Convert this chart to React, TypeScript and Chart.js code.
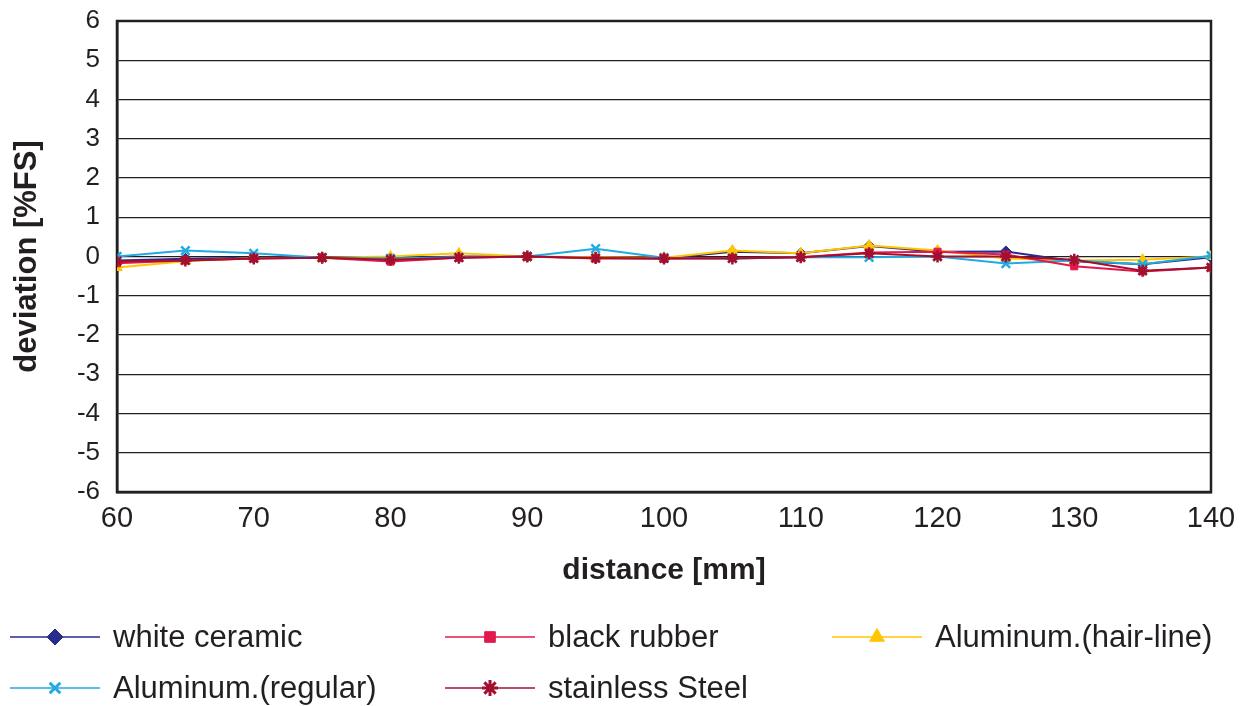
import React, { useEffect, useRef } from "react";
import { Chart, registerables } from "chart.js";
import { drawPoint } from "chart.js/helpers";

Chart.register(...registerables);

const distances = [60, 65, 70, 75, 80, 85, 90, 95, 100, 105, 110, 115, 120, 125, 130, 135, 140];

const whiteCeramic = [-0.1, -0.06, -0.03, -0.03, -0.05, 0.0, 0.0, -0.03, -0.05, 0.12, 0.08, 0.27, 0.12, 0.13, -0.12, -0.2, -0.02];
const blackRubber = [-0.17, -0.1, -0.05, -0.03, -0.13, -0.03, 0.0, -0.05, -0.05, -0.04, -0.02, 0.1, 0.12, 0.05, -0.25, -0.38, -0.28];
const aluminumHairLine = [-0.28, -0.12, -0.04, -0.03, 0.0, 0.08, 0.0, -0.02, -0.03, 0.15, 0.08, 0.28, 0.15, -0.05, -0.1, -0.08, 0.0];
const aluminumRegular = [0.0, 0.15, 0.08, -0.03, -0.05, -0.02, 0.0, 0.2, -0.03, -0.05, -0.02, -0.02, 0.0, -0.18, -0.1, -0.2, 0.02];
const stainlessSteel = [-0.12, -0.1, -0.05, -0.03, -0.08, -0.03, 0.0, -0.04, -0.05, -0.05, -0.02, 0.08, 0.0, 0.0, -0.08, -0.36, -0.28];

const seriesLabels = ["white ceramic", "black rubber", "Aluminum.(hair-line)", "Aluminum.(regular)", "stainless Steel"];
const xTitle = "distance [mm]";
const yTitle = "deviation [%FS]";

const INK = "#231f20";

const toPoints = (vals: number[]) => vals.map((v, i) => ({ x: distances[i], y: v }));

const legendSlots = [
  { x: 10, y: 637 },
  { x: 445, y: 637 },
  { x: 832, y: 637 },
  { x: 10, y: 688 },
  { x: 445, y: 688 },
];

const decorPlugin = {
  id: "decor",
  beforeDatasetsDraw(chart: any) {
    const { ctx, chartArea } = chart;
    ctx.save();
    ctx.strokeStyle = INK;
    ctx.lineWidth = 2.5;
    ctx.strokeRect(chartArea.left, chartArea.top, chartArea.right - chartArea.left, chartArea.bottom - chartArea.top);
    ctx.restore();
  },
  afterDraw(chart: any) {
    const { ctx } = chart;
    ctx.save();
    chart.data.datasets.forEach((ds: any, i: number) => {
      const slot = legendSlots[i];
      if (!slot) return;
      ctx.strokeStyle = ds.borderColor;
      ctx.lineWidth = 1.5;
      ctx.beginPath();
      ctx.moveTo(slot.x, slot.y);
      ctx.lineTo(slot.x + 90, slot.y);
      ctx.stroke();
      ctx.fillStyle = ds.pointBackgroundColor;
      ctx.strokeStyle = ds.pointBorderColor;
      ctx.lineWidth = ds.legendBorderWidth;
      drawPoint(ctx, { pointStyle: ds.pointStyle, radius: ds.legendRadius, rotation: 0, borderWidth: ds.legendBorderWidth }, slot.x + 45, slot.y);
      ctx.fillStyle = INK;
      ctx.font = "31px 'Liberation Sans', Arial, sans-serif";
      ctx.textAlign = "left";
      ctx.textBaseline = "middle";
      ctx.fillText(ds.label, slot.x + 103, slot.y + 1);
    });
    ctx.restore();
  },
};

export default function App() {
  const canvasRef = useRef<HTMLCanvasElement | null>(null);

  useEffect(() => {
    if (!canvasRef.current) return;
    const mk = (
      idx: number,
      values: number[],
      color: string,
      style: string,
      radius: number,
      bw: number,
      legendRadius: number,
      legendBw: number,
      order: number
    ) => ({
      label: seriesLabels[idx],
      data: toPoints(values),
      borderColor: color,
      backgroundColor: color,
      pointBackgroundColor: color,
      pointBorderColor: color,
      pointStyle: style,
      pointRadius: radius,
      pointBorderWidth: bw,
      legendRadius,
      legendBorderWidth: legendBw,
      borderWidth: 2,
      tension: 0,
      fill: false,
      order,
    });

    const chart = new Chart(canvasRef.current, {
      type: "line",
      data: {
        datasets: [
          mk(0, whiteCeramic, "#262d8c", "rectRot", 5.5, 1, 8, 1, 4),
          mk(1, blackRubber, "#e3184d", "rect", 5, 1, 7.5, 1, 1),
          mk(2, aluminumHairLine, "#ffc600", "triangle", 6, 1, 8.5, 1, 3),
          mk(3, aluminumRegular, "#22aae2", "crossRot", 6, 2.5, 7.5, 3, 2),
          mk(4, stainlessSteel, "#a3102f", "star", 6, 2.5, 8, 3, 0),
        ] as any,
      },
      options: {
        animation: false,
        responsive: false,
        maintainAspectRatio: false,
        layout: { padding: { top: 21, right: 36, bottom: 117, left: 0 } },
        plugins: {
          legend: { display: false },
          tooltip: { enabled: false },
          title: { display: false },
        },
        scales: {
          x: {
            type: "linear",
            min: 60,
            max: 140,
            ticks: {
              stepSize: 10,
              color: INK,
              padding: 10,
              font: { family: "'Liberation Sans', Arial, sans-serif", size: 29 },
            },
            grid: { display: false, drawTicks: false },
            border: { display: true, color: INK, width: 2.5 },
            title: {
              display: true,
              text: xTitle,
              color: INK,
              padding: { top: 0, bottom: 0 },
              font: { family: "'Liberation Sans', Arial, sans-serif", size: 30, weight: "bold" },
            },
            afterFit: (scale: any) => {
              scale.height = 97;
              scale.paddingLeft = 0;
              scale.paddingRight = 0;
            },
          },
          y: {
            type: "linear",
            min: -6,
            max: 6,
            ticks: {
              stepSize: 1,
              color: INK,
              padding: 17,
              font: { family: "'Liberation Sans', Arial, sans-serif", size: 26 },
            },
            grid: { color: INK, lineWidth: 1.2, drawTicks: false },
            border: { display: true, color: INK, width: 2.5 },
            title: {
              display: true,
              text: yTitle,
              color: INK,
              padding: { top: 9, bottom: 0 },
              font: { family: "'Liberation Sans', Arial, sans-serif", size: 31, weight: "bold" },
            },
            afterFit: (scale: any) => {
              scale.width = 117;
              scale.paddingTop = 0;
              scale.paddingBottom = 0;
            },
          },
        },
      } as any,
      plugins: [decorPlugin],
    });
    return () => chart.destroy();
  }, []);

  return (
    <div style={{ position: "absolute", left: 0, top: 0, width: 1247, height: 706, background: "#fff" }}>
      <canvas ref={canvasRef} width={1247} height={706} style={{ display: "block", width: 1247, height: 706 }} />
    </div>
  );
}
